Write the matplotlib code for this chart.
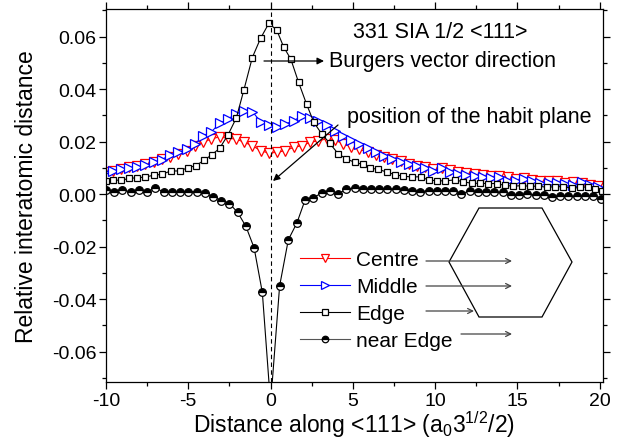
import matplotlib
matplotlib.use("Agg")
import matplotlib.pyplot as plt
from matplotlib.patches import Polygon
from matplotlib.ticker import MultipleLocator

plt.rcParams['font.family'] = ['Liberation Sans', 'DejaVu Sans']
plt.rcParams['mathtext.fontset'] = 'custom'
plt.rcParams['mathtext.rm'] = 'Liberation Sans'
plt.rcParams['mathtext.it'] = 'Liberation Sans'
plt.rcParams['axes.unicode_minus'] = False

# ---------------- data ----------------
x_tri = [-10.1, -9.6, -9.1, -8.6, -8.1, -7.6, -7.1, -6.6, -6.1, -5.6,
         -5.1, -4.6, -4.1, -3.6, -3.1, -2.6, -2.1, -1.6, -1.1, -0.6,
         -0.1, 0.4, 0.9, 1.4, 1.9, 2.4, 2.9, 3.4, 3.9, 4.4,
         4.9, 5.4, 5.9, 6.4, 6.9, 7.4, 7.9, 8.4, 8.9, 9.4,
         9.9, 10.4, 10.9, 11.4, 11.9, 12.4, 12.9, 13.4, 13.9, 14.4,
         14.9, 15.4, 15.9, 16.4, 16.9, 17.4, 17.9, 18.4, 18.9, 19.4, 19.9]

centre = [0.0083, 0.0089, 0.0095, 0.0102, 0.0108, 0.0114, 0.0123, 0.0133, 0.0140, 0.0152,
          0.0165, 0.0184, 0.0197, 0.0210, 0.0218, 0.0212, 0.0210, 0.0197, 0.0184, 0.0165,
          0.0156, 0.0159, 0.0165, 0.0178, 0.0184, 0.0197, 0.0203, 0.0210, 0.0205, 0.0192,
          0.0180, 0.0170, 0.0160, 0.0150, 0.0140, 0.0132, 0.0125, 0.0115, 0.0108, 0.0102,
          0.0095, 0.0098, 0.0090, 0.0085, 0.0080, 0.0076, 0.0072, 0.0070, 0.0068, 0.0064,
          0.0058, 0.0060, 0.0055, 0.0050, 0.0050, 0.0048, 0.0042, 0.0045, 0.0042, 0.0036, 0.0030]

middle = [0.0083, 0.0088, 0.0095, 0.0098, 0.0102, 0.0110, 0.0121, 0.0131, 0.0150, 0.0159,
          0.0171, 0.0190, 0.0222, 0.0237, 0.0269, 0.0286, 0.0305, 0.0316, 0.0314, 0.0275,
          0.0263, 0.0256, 0.0267, 0.0279, 0.0298, 0.0288, 0.0279, 0.0262, 0.0240, 0.0222,
          0.0205, 0.0190, 0.0175, 0.0159, 0.0146, 0.0133, 0.0123, 0.0114, 0.0105, 0.0098,
          0.0089, 0.0098, 0.0083, 0.0076, 0.0072, 0.0068, 0.0064, 0.0062, 0.0064, 0.0051,
          0.0051, 0.0057, 0.0050, 0.0044, 0.0042, 0.0044, 0.0040, 0.0034, 0.0047, 0.0034, 0.0026]

x_edge = [-9.98, -9.6, -9.07, -8.6, -8.1, -7.6, -7.09, -6.6, -6.07, -5.53,
          -5.04, -4.56, -4.05, -3.57, -3.1, -2.59, -2.08, -1.62, -1.11, -0.61,
          -0.10, 0.38, 0.79, 1.23, 1.70, 2.19, 2.63, 3.10, 3.60, 4.10,
          4.58, 5.10, 5.60, 6.05, 6.55, 7.05, 7.55, 8.05, 8.62, 9.12,
          9.61, 10.12, 10.58, 11.19, 11.70, 12.21, 12.71, 13.22, 13.73, 14.23,
          14.74, 15.25, 15.75, 16.26, 16.77, 17.27, 17.78, 18.29, 18.80, 19.30, 19.71, 20.12]

edge = [0.0051, 0.0054, 0.0052, 0.0060, 0.0062, 0.0065, 0.0072, 0.0075, 0.0088, 0.0088,
        0.0100, 0.0108, 0.0128, 0.0150, 0.0174, 0.0225, 0.0290, 0.0397, 0.0520, 0.0593,
        0.0651, 0.0624, 0.0561, 0.0514, 0.0426, 0.0342, 0.0273, 0.0230, 0.0193, 0.0154,
        0.0135, 0.0121, 0.0113, 0.0099, 0.0094, 0.0084, 0.0074, 0.0068, 0.0065, 0.0066,
        0.0053, 0.0051, 0.0050, 0.0054, 0.0047, 0.0041, 0.0041, 0.0040, 0.0040, 0.0033,
        0.0030, 0.0032, 0.0030, 0.0030, 0.0026, 0.0028, 0.0028, 0.0022, 0.0025, 0.0028, 0.0019, 0.0013]

x_near = [-10.0, -9.5, -9.0, -8.5, -8.0, -7.5, -7.0, -6.5, -6.0, -5.5,
          -5.0, -4.5, -4.0, -3.5, -3.0, -2.5, -2.0, -1.5, -1.0, -0.5,
          0.0, 0.55, 1.08, 1.6, 2.1, 2.6, 3.1, 3.6, 4.1, 4.6,
          5.1, 5.6, 6.1, 6.6, 7.1, 7.6, 8.1, 8.6, 9.1, 9.6,
          10.1, 10.6, 11.1, 11.6, 12.1, 12.6, 13.1, 13.6, 14.1, 14.6,
          15.1, 15.6, 16.1, 16.6, 17.1, 17.6, 18.1, 18.6, 19.1, 19.6, 20.1]

near_edge = [0.0015, 0.0009, 0.0015, 0.0009, 0.0015, 0.0009, 0.0022, 0.0009, 0.0009, 0.0009,
             0.0009, 0.0009, 0.0003, -0.0010, -0.0025, -0.0036, -0.0070, -0.0123, -0.0205, -0.0375,
             -0.0800, -0.0350, -0.0174, -0.0110, -0.0022, -0.0014, 0.0004, 0.0010, 0.0000, 0.0019,
             0.0022, 0.0019, 0.0019, 0.0019, 0.0019, 0.0019, 0.0015, 0.0013, 0.0009, 0.0013,
             0.0013, 0.0013, 0.0013, 0.0000, 0.0013, 0.0006, 0.0006, 0.0006, 0.0006, -0.0004,
             -0.0004, 0.0000, -0.0004, -0.0004, -0.0013, -0.0006, -0.0009, -0.0009, -0.0009, -0.0009, -0.0019]

labels = ['Centre', 'Middle', 'Edge', 'near Edge']
x_ticks = [-10, -5, 0, 5, 10, 15, 20]
y_ticks = [-0.06, -0.04, -0.02, 0.00, 0.02, 0.04, 0.06]

# ---------------- figure ----------------
W, H = 626, 439
fig = plt.figure(figsize=(W / 100, H / 100), dpi=100)
ax_l, ax_r, ax_t, ax_b = 106, 603, 10, 383
ax = fig.add_axes([ax_l / W, 1 - ax_b / H, (ax_r - ax_l) / W, (ax_b - ax_t) / H])

lw = 0.8
mew = 0.9
ax.plot(x_tri, centre, color='red', lw=lw, marker='v', ms=6.5, mfc='white',
        mec='red', mew=mew, label=labels[0])
ax.plot(x_tri, middle, color='blue', lw=lw, marker='>', ms=6.5, mfc='white',
        mec='blue', mew=mew, label=labels[1])
ax.plot(x_edge, edge, color='black', lw=lw, marker='s', ms=5, mfc='white',
        mec='black', mew=mew, label=labels[2])
ax.plot(x_near, near_edge, color='black', lw=lw, marker='o', ms=5.5,
        fillstyle='top', mfc='black', markerfacecoloralt='white',
        mec='black', mew=mew, label=labels[3])

ax.axvline(0, color='black', lw=0.8, ls=(0, (4, 3)))

ax.set_xlim(-10, 20.2)
ax.set_ylim(-0.0716, 0.0705)
ax.set_xticks(x_ticks)
ax.set_yticks(y_ticks)
ax.set_yticklabels([f'{v:.2f}' for v in y_ticks])
ax.xaxis.set_minor_locator(MultipleLocator(2.5))
ax.yaxis.set_minor_locator(MultipleLocator(0.01))
ax.tick_params(which='both', direction='out', top=True, right=True,
               labelsize=14, width=0.9)
ax.tick_params(axis='y', pad=2)
ax.tick_params(axis='x', pad=2)
ax.tick_params(which='major', length=5)
ax.tick_params(which='minor', length=3)
for s in ax.spines.values():
    s.set_linewidth(0.9)

ax.set_xlabel(r'Distance along <111> (a$_\mathregular{0}$3$^\mathregular{1/2}$/2)',
              fontsize=16.5, labelpad=-0.5)
ax.set_ylabel('Relative interatomic distance', fontsize=16.5, labelpad=10)

leg = ax.legend(loc='upper left', bbox_to_anchor=((296 - ax_l) / (ax_r - ax_l), (ax_b - 247) / (ax_b - ax_t)),
                frameon=False, fontsize=15, handlelength=2.4, handletextpad=0.3,
                labelspacing=0.38, borderpad=0.2, borderaxespad=0, markerscale=0.85)
leg.legend_handles[3].set_color('#555555')
leg.legend_handles[3].set_markeredgecolor('black')


def af(px, py):
    return ((px - ax_l) / (ax_r - ax_l), (ax_b - py) / (ax_b - ax_t))


# text annotations
ax.text(*af(353, 32), '331 SIA 1/2 <111>', transform=ax.transAxes, fontsize=15.5,
        va='center', ha='left')
ax.text(*af(329, 62), 'Burgers vector direction', transform=ax.transAxes, fontsize=15.5,
        va='center', ha='left')
ax.text(*af(347, 117), 'position of the habit plane', transform=ax.transAxes, fontsize=15.5,
        va='center', ha='left')

ax.annotate('', xy=af(324, 62), xytext=af(264, 62), xycoords='axes fraction',
            textcoords='axes fraction',
            arrowprops=dict(arrowstyle='-|>', color='black', lw=0.9,
                            mutation_scale=10, shrinkA=0, shrinkB=0))
ax.annotate('', xy=af(273, 182), xytext=af(338, 126), xycoords='axes fraction',
            textcoords='axes fraction',
            arrowprops=dict(arrowstyle='-|>', color='black', lw=0.9,
                            mutation_scale=10, shrinkA=0, shrinkB=0))

# hexagon
hex_px = [(449, 263), (479, 209), (542, 209), (572, 263), (542, 318), (479, 318)]
hexagon = Polygon([af(*p) for p in hex_px], closed=True, fill=False,
                  edgecolor='black', lw=0.9, transform=ax.transAxes)
ax.add_patch(hexagon)

# gray arrows from legend to hexagon
for (x0, x1, yy) in [(426, 512, 262), (426, 512, 287), (426, 474, 312), (461, 512, 335)]:
    ax.annotate('', xy=af(x1, yy), xytext=af(x0, yy), xycoords='axes fraction',
                textcoords='axes fraction',
                arrowprops=dict(arrowstyle='->', color='#444444', lw=0.9,
                                mutation_scale=9, shrinkA=0, shrinkB=0))

fig.savefig('out.png', dpi=100)
